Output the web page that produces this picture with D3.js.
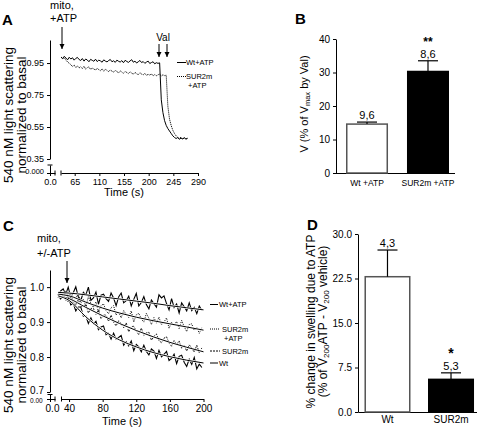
<!DOCTYPE html>
<html><head><meta charset="utf-8">
<script src="https://cdn.jsdelivr.net/npm/d3@7"></script>
<style>body{margin:0;background:#fff}svg{display:block}</style>
</head><body>
<svg id="c" width="477" height="428"></svg>
<script>
// ---------------- DATA ----------------
// Panel A : light scattering traces (time grid every 3 s from 40 s)
const timesA = d3.range(40, 272, 3);
const aWtATP = [
 0.988,0.978,0.992,0.981,0.970,0.986,0.975,0.983,0.968,0.979,
 0.985,0.972,0.966,0.978,0.962,0.975,0.969,0.958,0.973,0.967,
 0.961,0.974,0.959,0.968,0.963,0.955,0.970,0.962,0.957,0.966,
 0.972,0.958,0.964,0.954,0.968,0.961,0.956,0.965,0.952,0.967,
 0.960,0.954,0.963,0.971,0.955,0.962,0.950,0.958,0.966,0.953,
 0.959,0.948,0.956,0.962,0.947,0.953,0.958,0.945,0.952,0.948,
 0.951,0.72,0.64,0.59,0.56,0.54,0.525,0.51,0.495,0.485,
 0.478,0.484,0.473,0.481,0.476,0.483,0.474,0.479];
const aSURATP = [
 0.986,0.978,0.983,0.968,0.957,0.948,0.940,0.928,0.937,0.922,
 0.932,0.919,0.927,0.916,0.930,0.912,0.921,0.926,0.910,0.918,
 0.913,0.905,0.919,0.908,0.902,0.914,0.899,0.911,0.904,0.896,
 0.907,0.899,0.893,0.904,0.897,0.888,0.901,0.894,0.886,0.897,
 0.891,0.884,0.895,0.887,0.880,0.892,0.883,0.877,0.889,0.881,
 0.876,0.886,0.872,0.880,0.874,0.883,0.869,0.878,0.871,0.876,
 0.882,0.868,0.877,0.871,0.874,0.68,0.6,0.56,0.53,0.51,
 0.495,0.485,0.479,0.486,0.474,0.482,0.476,0.481];
const aYTicks = [0.35, 0.55, 0.75, 0.95];
const aXTicks = [65, 110, 155, 200, 245, 290];

// Panel B
const bCats = ["Wt +ATP", "SUR2m +ATP"];
const bVals = [14.6, 30.3];
const bErr = [0.6, 3.2];
const bN = ["9,6", "8,6"];
const bSig = ["", "**"];
const bYTicks = [0, 10, 20, 30, 40];

// Panel C : traces every 3 s from 27 s
const timesC = d3.range(27, 200, 3);
const cWtATP = [
 0.977,0.989,0.995,0.979,1.000,0.971,0.984,1.001,0.972,0.962,
 0.985,0.978,1.000,0.962,0.969,0.986,0.951,0.977,0.980,0.967,
 0.959,0.983,0.969,0.947,0.972,0.983,0.955,0.961,0.974,0.946,
 0.965,0.982,0.946,0.956,0.973,0.950,0.938,0.963,0.953,0.943,
 0.978,0.969,0.975,0.953,0.935,0.967,0.942,0.952,0.926,0.955,
 0.944,0.932,0.955,0.933,0.942,0.924,0.946,0.934];
const cSURATP = [
 0.970,0.983,0.972,0.989,0.972,0.982,0.957,0.970,0.980,0.954,
 0.966,0.945,0.973,0.952,0.942,0.958,0.929,0.947,0.952,0.933,
 0.924,0.941,0.947,0.920,0.930,0.912,0.933,0.922,0.913,0.932,
 0.900,0.921,0.925,0.909,0.900,0.925,0.911,0.893,0.913,0.897,
 0.914,0.892,0.900,0.912,0.882,0.900,0.890,0.902,0.881,0.905,
 0.887,0.873,0.893,0.895,0.876,0.884,0.868,0.885];
const cSUR = [
 0.980,0.965,0.981,0.967,0.957,0.972,0.963,0.948,0.965,0.945,
 0.945,0.951,0.926,0.939,0.939,0.922,0.935,0.910,0.920,0.920,
 0.902,0.920,0.900,0.889,0.904,0.895,0.884,0.898,0.872,0.887,
 0.888,0.874,0.864,0.883,0.862,0.869,0.871,0.848,0.859,0.866,
 0.847,0.841,0.854,0.858,0.840,0.831,0.847,0.836,0.846,0.825,
 0.834,0.817,0.835,0.826,0.814,0.834,0.812,0.826];
const cWt = [
 0.978,0.966,0.978,0.964,0.975,0.949,0.954,0.932,0.943,0.943,
 0.917,0.917,0.896,0.912,0.895,0.902,0.878,0.886,0.889,0.864,
 0.868,0.851,0.868,0.851,0.856,0.862,0.834,0.844,0.832,0.846,
 0.818,0.836,0.829,0.815,0.834,0.816,0.806,0.823,0.817,0.796,
 0.819,0.801,0.808,0.816,0.790,0.796,0.808,0.781,0.802,0.805,
 0.785,0.773,0.794,0.779,0.799,0.766,0.780,0.770];
// fitted curves
const fitTimes = [27, 40, 60, 80, 100, 120, 140, 160, 180, 200];
const fWtATP  = [0.985,0.983,0.978,0.972,0.966,0.96,0.954,0.947,0.941,0.935];
const fSURATP = [0.98,0.975,0.957,0.94,0.926,0.914,0.904,0.895,0.886,0.877];
const fSUR    = [0.975,0.967,0.942,0.918,0.896,0.876,0.858,0.842,0.828,0.815];
const fWt     = [0.975,0.962,0.915,0.877,0.849,0.829,0.813,0.801,0.791,0.783];
const cYTicks = [0.7, 0.8, 0.9, 1.0];
const cXTicks = [40, 80, 120, 160, 200];

// Panel D
const dCats = ["Wt", "SUR2m"];
const dVals = [22.8, 5.5];
const dErr = [4.5, 1.1];
const dN = ["4,3", "5,3"];
const dSig = ["", "*"];
const dYTicks = [0, 7.5, 15, 22.5, 30];

// ---------------- DRAW ----------------
const FONT = "'Liberation Sans', Arial, Helvetica, sans-serif";
const svg = d3.select("#c").attr("font-family", FONT);
svg.append("defs").append("marker").attr("id", "arr")
  .attr("viewBox", "0 0 10 10").attr("refX", 10).attr("refY", 5)
  .attr("markerWidth", 5).attr("markerHeight", 6).attr("markerUnits", "userSpaceOnUse")
  .attr("orient", "auto").append("path").attr("d", "M0,0L10,5L0,10z").attr("fill", "#000");

function styleAxis(g, fs) {
  g.select(".domain").attr("stroke", "#000").attr("stroke-width", 1);
  g.selectAll(".tick line").attr("stroke", "#000");
  g.selectAll("text").attr("font-size", fs).attr("font-family", FONT).attr("fill", "#000");
  return g;
}
function text(x, y, s, fs, anchor, weight) {
  return svg.append("text").attr("x", x).attr("y", y).text(s)
    .attr("font-size", fs).attr("text-anchor", anchor || "start")
    .attr("font-weight", weight || "normal").attr("fill", "#000");
}
function vtext(x, y, fs) {
  return svg.append("text").attr("transform", `translate(${x},${y}) rotate(-90)`)
    .attr("font-size", fs).attr("text-anchor", "middle").attr("fill", "#000");
}
function seg(x1, y1, x2, y2, w) {
  return svg.append("line").attr("x1", x1).attr("y1", y1).attr("x2", x2).attr("y2", y2)
    .attr("stroke", "#000").attr("stroke-width", w || 1);
}
function arrow(x, y1, y2) {
  seg(x, y1, x, y2 - 1, 1).attr("marker-end", "url(#arr)");
}

// ===== Panel A =====
const xA = d3.scaleLinear().domain([40, 290]).range([61, 198]);
const xA0 = d3.scaleLinear().domain([0, 9]).range([50, 55]);
const yA = d3.scaleLinear().domain([0.35, 1.094]).range([159, 40]);
const yA0 = d3.scaleLinear().domain([0, 0.05]).range([173, 165]);

styleAxis(svg.append("g").attr("transform", "translate(50,0)")
  .call(d3.axisLeft(yA).tickValues(aYTicks).tickFormat(d3.format(".2f")).tickSize(3).tickSizeOuter(0)), 9);
styleAxis(svg.append("g").attr("transform", "translate(50,0)")
  .call(d3.axisLeft(yA0).tickValues([0]).tickFormat(() => "0.000").tickSize(3).tickSizeOuter(0)), 7.5)
  .selectAll("text").attr("dy", "0.1em");
seg(47.5, yA0.range()[1], 52.5, yA0.range()[1]);
styleAxis(svg.append("g").attr("transform", "translate(0,173)")
  .call(d3.axisBottom(xA).tickValues(aXTicks).tickSize(3).tickSizeOuter(0)), 9);
styleAxis(svg.append("g").attr("transform", "translate(0,173)")
  .call(d3.axisBottom(xA0).tickValues([0]).tickFormat(() => "0.0").tickSize(3).tickSizeOuter(0)), 9);
seg(xA0.range()[1], 170.5, xA0.range()[1], 175.5);
seg(xA.range()[0], 170.5, xA.range()[0], 175.5);

const lineA = d3.line().x((d, i) => xA(timesA[i])).y(d => yA(d));
svg.append("path").datum(aSURATP).attr("d", lineA).attr("fill", "none")
  .attr("stroke", "#000").attr("stroke-width", 0.9).attr("stroke-dasharray", "1.2,0.8");
svg.append("path").datum(aWtATP).attr("d", lineA).attr("fill", "none")
  .attr("stroke", "#000").attr("stroke-width", 1);

text(2, 25, "A", 15, "start", "bold");
text(50, 9, "mito,", 11);
text(50, 22, "+ATP", 11);
arrow(62, 27, 50);
text(163, 41, "Val", 10, "middle");
arrow(159, 44, 58);
arrow(167, 44, 58);
seg(177, 62.5, 186, 62.5);
text(186, 65, "Wt+ATP", 7.5);
seg(177, 76.5, 186, 76.5).attr("stroke-dasharray", "1,1");
text(186, 79, "SUR2m", 7.5);
text(188, 88, "+ATP", 7.5);
const la = vtext(0, 115, 13.5);
la.append("tspan").attr("x", 0).attr("y", 12.5).text("540 nM light scattering");
la.append("tspan").attr("x", 0).attr("y", 25.5).text("normalized to basal");
text(124, 196, "Time (s)", 11, "middle");

// ===== Panel B =====
const yB = d3.scaleLinear().domain([0, 40]).range([173, 39]);
const xB = d3.scaleBand().domain(bCats).range([336, 459]).paddingInner(0.311).paddingOuter(0.164);
styleAxis(svg.append("g").attr("transform", "translate(336,0)")
  .call(d3.axisLeft(yB).tickValues(bYTicks).tickSize(3).tickSizeOuter(0)), 10);
const gxB = svg.append("g").attr("transform", "translate(0,173)")
  .call(d3.axisBottom(xB).tickSize(0).tickPadding(7).tickSizeOuter(0));
styleAxis(gxB, 8.5);
gxB.select(".domain").attr("d", "M336,0.5H455");
svg.selectAll(".barB").data(bVals).enter().append("rect")
  .attr("x", (d, i) => xB(bCats[i]) + 0.75).attr("width", xB.bandwidth() - 1.5)
  .attr("y", d => yB(d)).attr("height", d => yB(0) - yB(d))
  .attr("fill", (d, i) => i === 0 ? "#fff" : "#000")
  .attr("stroke", (d, i) => i === 0 ? "#555" : "#000").attr("stroke-width", 1.5);
bVals.forEach((v, i) => {
  const cx = xB(bCats[i]) + xB.bandwidth() / 2;
  const top = yB(v + bErr[i]);
  seg(cx, yB(v), cx, top, 1.2);
  seg(cx - 10, top, cx + 10, top, 1.2);
  text(cx, top - 3, bN[i], 11, "middle");
  if (bSig[i]) text(cx, top - 15, bSig[i], 12, "middle", "bold");
});
text(295, 24, "B", 15, "start", "bold");
const lb = vtext(308, 104, 11);
lb.append("tspan").text("V (% of V");
lb.append("tspan").attr("font-size", 7.5).attr("dy", 2).text("max");
lb.append("tspan").attr("dy", -2).text(" by Val)");

// ===== Panel C =====
const xC = d3.scaleLinear().domain([31, 200]).range([61.5, 203.5]);
const xC0 = d3.scaleLinear().domain([0, 6]).range([50, 55]);
const yC = d3.scaleLinear().domain([0.7, 1.049]).range([392, 270]);
const yC0 = d3.scaleLinear().domain([0, 0.02]).range([399, 394.5]);
const gyC = styleAxis(svg.append("g").attr("transform", "translate(50,0)")
  .call(d3.axisLeft(yC).tickValues(cYTicks).tickFormat(d3.format(".1f")).tickSize(3).tickSizeOuter(0)), 10);
gyC.selectAll(".tick text").filter(d => d === 0.7).attr("dy", "0.15em");
styleAxis(svg.append("g").attr("transform", "translate(50,0)")
  .call(d3.axisLeft(yC0).tickValues([0]).tickFormat(() => "0.00").tickSize(3).tickSizeOuter(0)), 6.5)
  .selectAll("text").attr("dy", "0.55em").attr("dx", "-0.2em");
seg(47.5, yC0.range()[1], 52.5, yC0.range()[1]);
styleAxis(svg.append("g").attr("transform", "translate(0,399)")
  .call(d3.axisBottom(xC).tickValues(cXTicks).tickSize(3).tickSizeOuter(0)), 10);
styleAxis(svg.append("g").attr("transform", "translate(0,399)")
  .call(d3.axisBottom(xC0).tickValues([0]).tickFormat(() => "0.0").tickSize(3).tickSizeOuter(0)), 10)
  .selectAll("text").attr("dx", "0.2em");
seg(xC0.range()[1], 396.5, xC0.range()[1], 401.5);
seg(xC.range()[0], 396.5, xC.range()[0], 401.5);

const lineC = d3.line().x((d, i) => xC(timesC[i])).y(d => yC(d));
const fitC = d3.line().curve(d3.curveMonotoneX).x((d, i) => xC(fitTimes[i])).y(d => yC(d));
const cSeries = [
  { tr: cSUR, fit: fSUR, dash: "2,1.2", w: 0.9 },
  { tr: cSURATP, fit: fSURATP, dash: "1,1.2", w: 1 },
  { tr: cWt, fit: fWt, dash: null, w: 1.1 },
  { tr: cWtATP, fit: fWtATP, dash: null, w: 1.1 }
];
cSeries.forEach(s => {
  svg.append("path").datum(s.tr).attr("d", lineC).attr("fill", "none")
    .attr("stroke", "#000").attr("stroke-width", s.w).attr("stroke-dasharray", s.dash);
});
cSeries.forEach(s => {
  svg.append("path").datum(s.fit).attr("d", fitC).attr("fill", "none")
    .attr("stroke", "#fff").attr("stroke-width", 2.2);
  svg.append("path").datum(s.fit).attr("d", fitC).attr("fill", "none")
    .attr("stroke", "#000").attr("stroke-width", 1);
});

text(3, 231, "C", 15, "start", "bold");
text(37, 242, "mito,", 11);
text(37, 257, "+/-ATP", 11);
arrow(67, 261, 284);
seg(210, 304.5, 218, 304.5);
text(219, 307, "Wt+ATP", 7.5);
seg(210, 329, 220, 329).attr("stroke-dasharray", "1,1");
text(222, 331.5, "SUR2m", 7.5);
text(224, 340.5, "+ATP", 7.5);
seg(210, 351, 220, 351).attr("stroke-dasharray", "2,1");
text(222, 353.5, "SUR2m", 7.5);
seg(210, 363, 218, 363);
text(219, 365.5, "Wt", 7.5);
const lc = vtext(0, 345, 13.5);
lc.append("tspan").attr("x", 0).attr("y", 13).text("540 nM light scattering");
lc.append("tspan").attr("x", 0).attr("y", 26).text("normalized to basal");
text(122, 425, "Time (s)", 11, "middle");

// ===== Panel D =====
const yD = d3.scaleLinear().domain([0, 30]).range([412, 234]);
const xD = d3.scaleBand().domain(dCats).range([358, 480.5]).paddingInner(0.2756).paddingOuter(0.102);
styleAxis(svg.append("g").attr("transform", "translate(358,0)")
  .call(d3.axisLeft(yD).tickValues(dYTicks).tickFormat(d3.format(".1f")).tickSize(3).tickSizeOuter(0)), 10);
const gxD = svg.append("g").attr("transform", "translate(0,412)")
  .call(d3.axisBottom(xD).tickSize(0).tickPadding(4).tickSizeOuter(0));
styleAxis(gxD, 10);
svg.selectAll(".barD").data(dVals).enter().append("rect")
  .attr("x", (d, i) => xD(dCats[i]) + 0.75).attr("width", xD.bandwidth() - 1.5)
  .attr("y", d => yD(d)).attr("height", d => yD(0) - yD(d))
  .attr("fill", (d, i) => i === 0 ? "#fff" : "#000")
  .attr("stroke", (d, i) => i === 0 ? "#555" : "#000").attr("stroke-width", 1.5);
dVals.forEach((v, i) => {
  const cx = xD(dCats[i]) + xD.bandwidth() / 2;
  const top = yD(v + dErr[i]);
  seg(cx, yD(v), cx, top, 1.2);
  seg(cx - 10, top, cx + 10, top, 1.2);
  text(cx, top - 3, dN[i], 11, "middle");
  if (dSig[i]) text(cx, top - 15, dSig[i], 14, "middle", "bold");
});
text(307, 230, "D", 15, "start", "bold");
const ld = vtext(0, 321.5, 12);
ld.append("tspan").attr("x", 0).attr("y", 315).text("% change in swelling due to ATP");
const ld2 = vtext(327, 321.5, 12);
ld2.append("tspan").text("(% of V");
ld2.append("tspan").attr("font-size", 8).attr("dy", 2).text("200");
ld2.append("tspan").attr("dy", -2).text("ATP - V");
ld2.append("tspan").attr("font-size", 8).attr("dy", 2).text("200");
ld2.append("tspan").attr("dy", -2).text(" vehicle)");
</script>
</body></html>
